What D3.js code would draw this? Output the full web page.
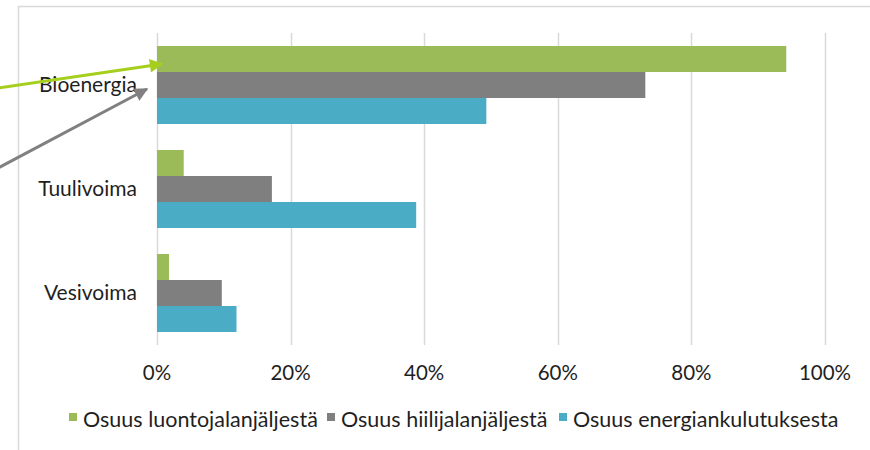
<!DOCTYPE html>
<html><head><meta charset="utf-8">
<script src="https://cdn.jsdelivr.net/npm/d3@7"></script>
<style>
html,body{margin:0;padding:0;background:#fff;}
svg{display:block;}
text{font-family:Lato,"Open Sans",sans-serif;fill:#1f1f1f;}
</style></head><body>
<svg id="c" width="870" height="450"></svg>
<script>
const categories = ["Bioenergia", "Tuulivoima", "Vesivoima"];
const seriesNames = ["Osuus luontojalanjäljestä", "Osuus hiilijalanjäljestä", "Osuus energiankulutuksesta"];
const luonto = [0.942, 0.040, 0.018];
const hiili = [0.731, 0.172, 0.097];
const energia = [0.493, 0.388, 0.119];
const tickValues = [0, 0.2, 0.4, 0.6, 0.8, 1.0];
const tickLabels = ["0%", "20%", "40%", "60%", "80%", "100%"];
const colors = ["#9BBB59", "#7F7F7F", "#4BACC6"];

const svg = d3.select("#c");
const seriesVals = [luonto, hiili, energia];

// frame
svg.append("path").attr("d", "M18.5,460 V6.5 H880").attr("fill", "none").attr("stroke", "#d9d9d9").attr("stroke-width", 1.5);

const x = d3.scaleLinear().domain([0, 1]).range([157, 825]);
const y = d3.scaleBand().domain(categories).range([33, 345]).paddingInner(0.25).paddingOuter(0.125);
const ys = d3.scaleBand().domain(d3.range(3)).range([0, y.bandwidth()]);

// gridlines
const grid = svg.append("g");
grid.selectAll("line").data(tickValues).join("line")
  .attr("x1", d => Math.round(x(d)) + 0.5).attr("x2", d => Math.round(x(d)) + 0.5)
  .attr("y1", 33).attr("y2", 345)
  .attr("stroke", "#d9d9d9").attr("stroke-width", 1.5);

// bars
categories.forEach((c, i) => {
  seriesVals.forEach((vals, s) => {
    svg.append("rect")
      .attr("x", x(0))
      .attr("y", y(c) + ys(s))
      .attr("width", x(vals[i]) - x(0))
      .attr("height", ys.bandwidth())
      .attr("fill", colors[s]);
  });
});

// category labels
svg.selectAll("text.cat").data(categories).join("text").attr("class", "cat")
  .attr("x", 137).attr("y", d => y(d) + y.bandwidth() / 2)
  .attr("dy", "0.35em").attr("text-anchor", "end")
  .style("font-size", "21px").text(d => d);

// tick labels
svg.selectAll("text.tick").data(tickValues).join("text").attr("class", "tick")
  .attr("x", d => x(d)).attr("y", 380)
  .attr("text-anchor", "middle").style("font-size", "20.5px")
  .text((d, i) => tickLabels[i]);

// legend
const legendX = [69, 327, 559];
const lg = svg.append("g");
seriesNames.forEach((n, i) => {
  lg.append("rect").attr("x", legendX[i]).attr("y", 413).attr("width", 8).attr("height", 8).attr("fill", colors[i]);
  lg.append("text").attr("x", legendX[i] + 14).attr("y", 427).style("font-size", "21.5px").text(n);
});

// annotation arrows
const defs = svg.append("defs");
function marker(id, col) {
  defs.append("marker").attr("id", id).attr("viewBox", "0 0 10 10")
    .attr("refX", 9).attr("refY", 5).attr("markerWidth", 5).attr("markerHeight", 4.5)
    .attr("orient", "auto").attr("markerUnits", "strokeWidth")
    .append("path").attr("d", "M0,0 L10,5 L0,10 Z").attr("fill", col);
}
marker("ag", "#a5cf1c");
marker("ak", "#808080");
svg.append("line").attr("x1", -2).attr("y1", 88).attr("x2", x(0) + 5).attr("y2", 64)
  .attr("stroke", "#a5cf1c").attr("stroke-width", 3).attr("marker-end", "url(#ag)");
svg.append("line").attr("x1", -2).attr("y1", 168).attr("x2", x(0) - 10).attr("y2", 89)
  .attr("stroke", "#808080").attr("stroke-width", 3).attr("marker-end", "url(#ak)");
</script>
</body></html>
